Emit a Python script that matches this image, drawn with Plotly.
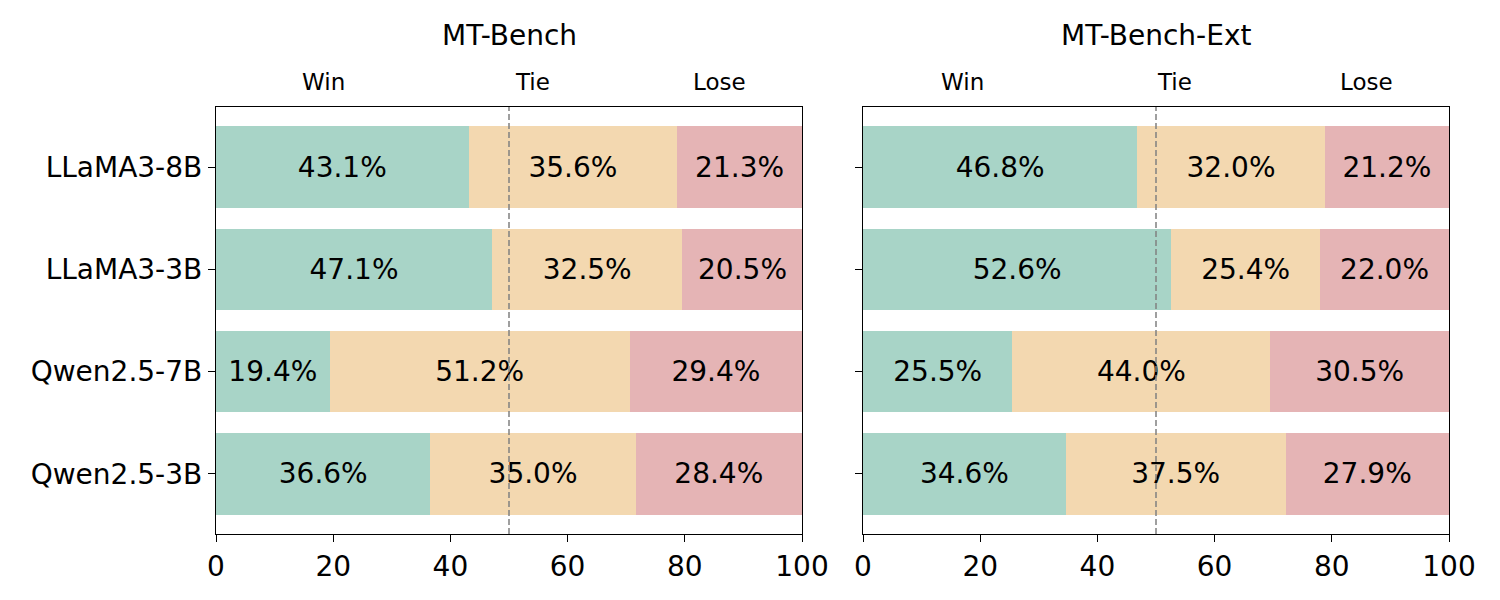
import plotly.graph_objects as go

models = ["LLaMA3-8B", "LLaMA3-3B", "Qwen2.5-7B", "Qwen2.5-3B"]
benchmarks = ["MT-Bench", "MT-Bench-Ext"]
outcomes = ["Win", "Tie", "Lose"]

mt_win = [43.1, 47.1, 19.4, 36.6]
mt_tie = [35.6, 32.5, 51.2, 35.0]
mt_lose = [21.3, 20.5, 29.4, 28.4]

ext_win = [46.8, 52.6, 25.5, 34.6]
ext_tie = [32.0, 25.4, 44.0, 37.5]
ext_lose = [21.2, 22.0, 30.5, 27.9]

colors = {"Win": "#a8d4c7", "Tie": "#f3d8b0", "Lose": "#e5b4b5"}
header_x = {"Win": 18.3, "Tie": 54, "Lose": 86}
header_x_ext = {"Win": 17, "Tie": 53.2, "Lose": 86}

FONT = "DejaVu Sans"
fig = go.Figure()

data = [
    (mt_win, mt_tie, mt_lose),
    (ext_win, ext_tie, ext_lose),
]
ypos = list(range(len(models)))

for i, (w, t, l) in enumerate(data):
    xa = "x" if i == 0 else "x2"
    ya = "y" if i == 0 else "y2"
    for name, vals in zip(outcomes, (w, t, l)):
        fig.add_trace(go.Bar(
            x=vals, y=ypos, orientation="h", width=0.8,
            marker=dict(color=colors[name], line=dict(width=0)),
            text=[f"{v:.1f}%" for v in vals],
            textposition="inside", insidetextanchor="middle",
            constraintext="none",
            textfont=dict(family=FONT, size=28, color="black"),
            xaxis=xa, yaxis=ya, showlegend=False, name=name,
        ))

fig.update_layout(
    barmode="stack",
    width=1500, height=600,
    margin=dict(l=0, r=0, t=0, b=0, autoexpand=False),
    paper_bgcolor="white", plot_bgcolor="white",
    font=dict(family=FONT, color="black"),
)

ydom = [0.11, 0.8217]
xdom1 = [216 / 1500, 802 / 1500]
xdom2 = [863 / 1500, 1449 / 1500]
axis_common = dict(
    showline=True, linecolor="black", linewidth=1.3, mirror=True,
    ticks="outside", ticklen=7, tickwidth=1.3, tickcolor="black",
    showgrid=False, zeroline=False, automargin=False,
    tickfont=dict(family=FONT, size=28, color="black"),
)
fig.update_layout(
    xaxis=dict(domain=xdom1, range=[0, 100], tickvals=[0, 20, 40, 60, 80, 100], anchor="y", **axis_common),
    xaxis2=dict(domain=xdom2, range=[0, 100], tickvals=[0, 20, 40, 60, 80, 100], anchor="y2", **axis_common),
    yaxis=dict(domain=ydom, range=[3.59, -0.59], tickvals=ypos, ticktext=models, anchor="x", **axis_common),
    yaxis2=dict(domain=ydom, range=[3.59, -0.59], tickvals=ypos, ticktext=["" for _ in models], anchor="x2", **axis_common),
)

for xr, yr, hx, title, dom in [("x", "y", header_x, benchmarks[0], xdom1),
                                ("x2", "y2", header_x_ext, benchmarks[1], xdom2)]:
    fig.add_shape(type="line", xref=xr, yref=f"{yr} domain", x0=50, x1=50, y0=0, y1=1,
                  line=dict(color="#808080", width=1.5, dash="6px,3px"))
    for name in outcomes:
        fig.add_annotation(x=hx[name], y=1 - 82 / 600, xref=xr, yref="paper",
                           text=name, showarrow=False,
                           font=dict(family=FONT, size=23, color="black"),
                           xanchor="center", yanchor="middle")
    fig.add_annotation(x=(dom[0] + dom[1]) / 2, y=1 - 35 / 600, xref="paper", yref="paper",
                       text=title, showarrow=False,
                       font=dict(family=FONT, size=28, color="black"),
                       xanchor="center", yanchor="middle")

fig.write_html("out.html")
